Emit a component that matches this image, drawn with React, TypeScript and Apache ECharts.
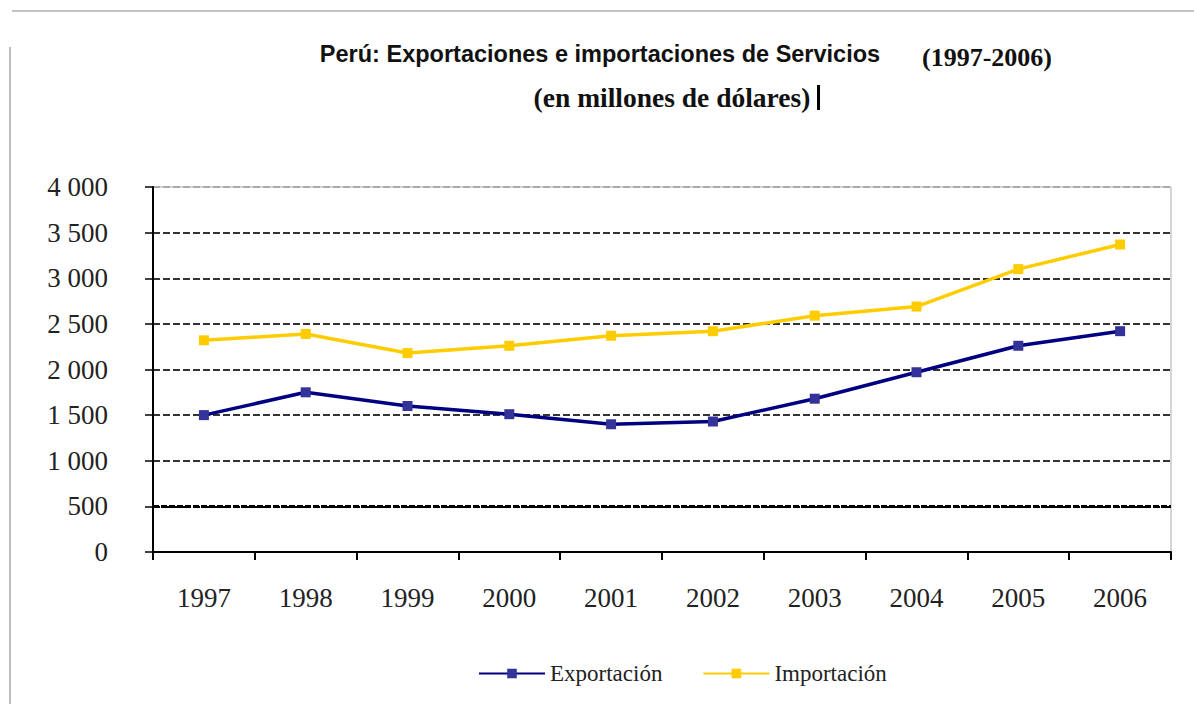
import React, { useEffect, useRef } from "react";
import * as echarts from "echarts";

const years = ["1997", "1998", "1999", "2000", "2001", "2002", "2003", "2004", "2005", "2006"];
const exportacion = [1500, 1750, 1600, 1510, 1400, 1430, 1680, 1970, 2260, 2420];
const importacion = [2320, 2390, 2180, 2260, 2370, 2420, 2590, 2690, 3100, 3370];
const yTicks = { min: 0, max: 4000, interval: 500 };
const titleMain = "Perú: Exportaciones e importaciones de Servicios";
const titlePeriod = "(1997-2006)";
const subtitle = "(en millones de dólares)";

const SERIF = "'Liberation Serif', 'Times New Roman', serif";
const SANS = "'Liberation Sans', Arial, sans-serif";

function fmt(v: number): string {
  const s = String(v);
  return s.length > 3 ? s.slice(0, s.length - 3) + " " + s.slice(-3) : s;
}

export default function App() {
  const ref = useRef<HTMLDivElement>(null);
  useEffect(() => {
    if (!ref.current) return;
    const chart = echarts.init(ref.current, null, { renderer: "svg" });
    const splitColors = ["rgba(0,0,0,0)", "#000", "#333", "#333", "#333", "#333", "#333", "#333", "#aaa"];
    chart.setOption({
      animation: false,
      backgroundColor: "#fff",
      grid: {
        left: 153,
        right: 23,
        top: 187,
        bottom: 152,
        show: true,
        borderColor: "#aaa",
        borderWidth: 1,
        backgroundColor: "transparent",
      },
      graphic: [
        { type: "line", shape: { x1: 12, y1: 11, x2: 1194, y2: 11 }, style: { stroke: "#c4c4c4", lineWidth: 2 } },
        { type: "line", shape: { x1: 10, y1: 47, x2: 10, y2: 704 }, style: { stroke: "#bdbdbd", lineWidth: 2 } },
        {
          type: "text",
          x: 600,
          y: 54,
          style: { text: titleMain, font: "bold 23.5px " + SANS, fill: "#111", textAlign: "center", textVerticalAlign: "middle" },
        },
        {
          type: "text",
          x: 987,
          y: 57,
          style: { text: titlePeriod, font: "bold 26px " + SERIF, fill: "#111", textAlign: "center", textVerticalAlign: "middle" },
        },
        {
          type: "text",
          x: 672,
          y: 97,
          style: { text: subtitle, font: "bold 27.5px " + SERIF, fill: "#111", textAlign: "center", textVerticalAlign: "middle" },
        },
        { type: "rect", shape: { x: 817, y: 85, width: 3, height: 25 }, style: { fill: "#000" } },
      ],
      legend: {
        left: 473,
        top: 657,
        itemWidth: 66,
        itemHeight: 12,
        itemGap: 40,
        textStyle: { fontFamily: SERIF, fontSize: 23, color: "#222", padding: [0, 0, 0, 0] },
        data: ["Exportación", "Importación"],
      },
      xAxis: {
        type: "category",
        data: years,
        boundaryGap: true,
        axisLine: { lineStyle: { color: "#000", width: 2 } },
        axisTick: { show: true, length: 8, lineStyle: { color: "#000", width: 2 } },
        axisLabel: { fontFamily: SERIF, fontSize: 27, color: "#222", margin: 32 },
        splitLine: { show: false },
      },
      yAxis: {
        type: "value",
        min: yTicks.min,
        max: yTicks.max,
        interval: yTicks.interval,
        axisLine: { show: true, lineStyle: { color: "#000", width: 2 } },
        axisTick: { show: true, length: 8, lineStyle: { color: "#000", width: 1.5 } },
        axisLabel: { fontFamily: SERIF, fontSize: 27, color: "#222", margin: 45, formatter: (v: number) => fmt(v) },
        splitLine: { show: true, lineStyle: { color: splitColors, width: 2, type: [7, 3] } },
      },
      series: [
        {
          name: "Exportación",
          type: "line",
          data: exportacion,
          symbol: "rect",
          symbolSize: 10,
          lineStyle: { color: "#000080", width: 3.5 },
          itemStyle: { color: "#333399" },
          z: 3,
          markLine: {
            silent: true,
            symbol: "none",
            label: { show: false },
            lineStyle: { color: "#000", width: 3, type: [6, 2] },
            data: [{ yAxis: 500 }],
            z: 1,
          },
        },
        {
          name: "Importación",
          type: "line",
          data: importacion,
          symbol: "rect",
          symbolSize: 10,
          lineStyle: { color: "#FFCC00", width: 3.5 },
          itemStyle: { color: "#FFCC00" },
          z: 3,
        },
      ],
    });
    return () => chart.dispose();
  }, []);
  return <div ref={ref} style={{ position: "fixed", left: 0, top: 0, width: 1194, height: 704 }} />;
}
